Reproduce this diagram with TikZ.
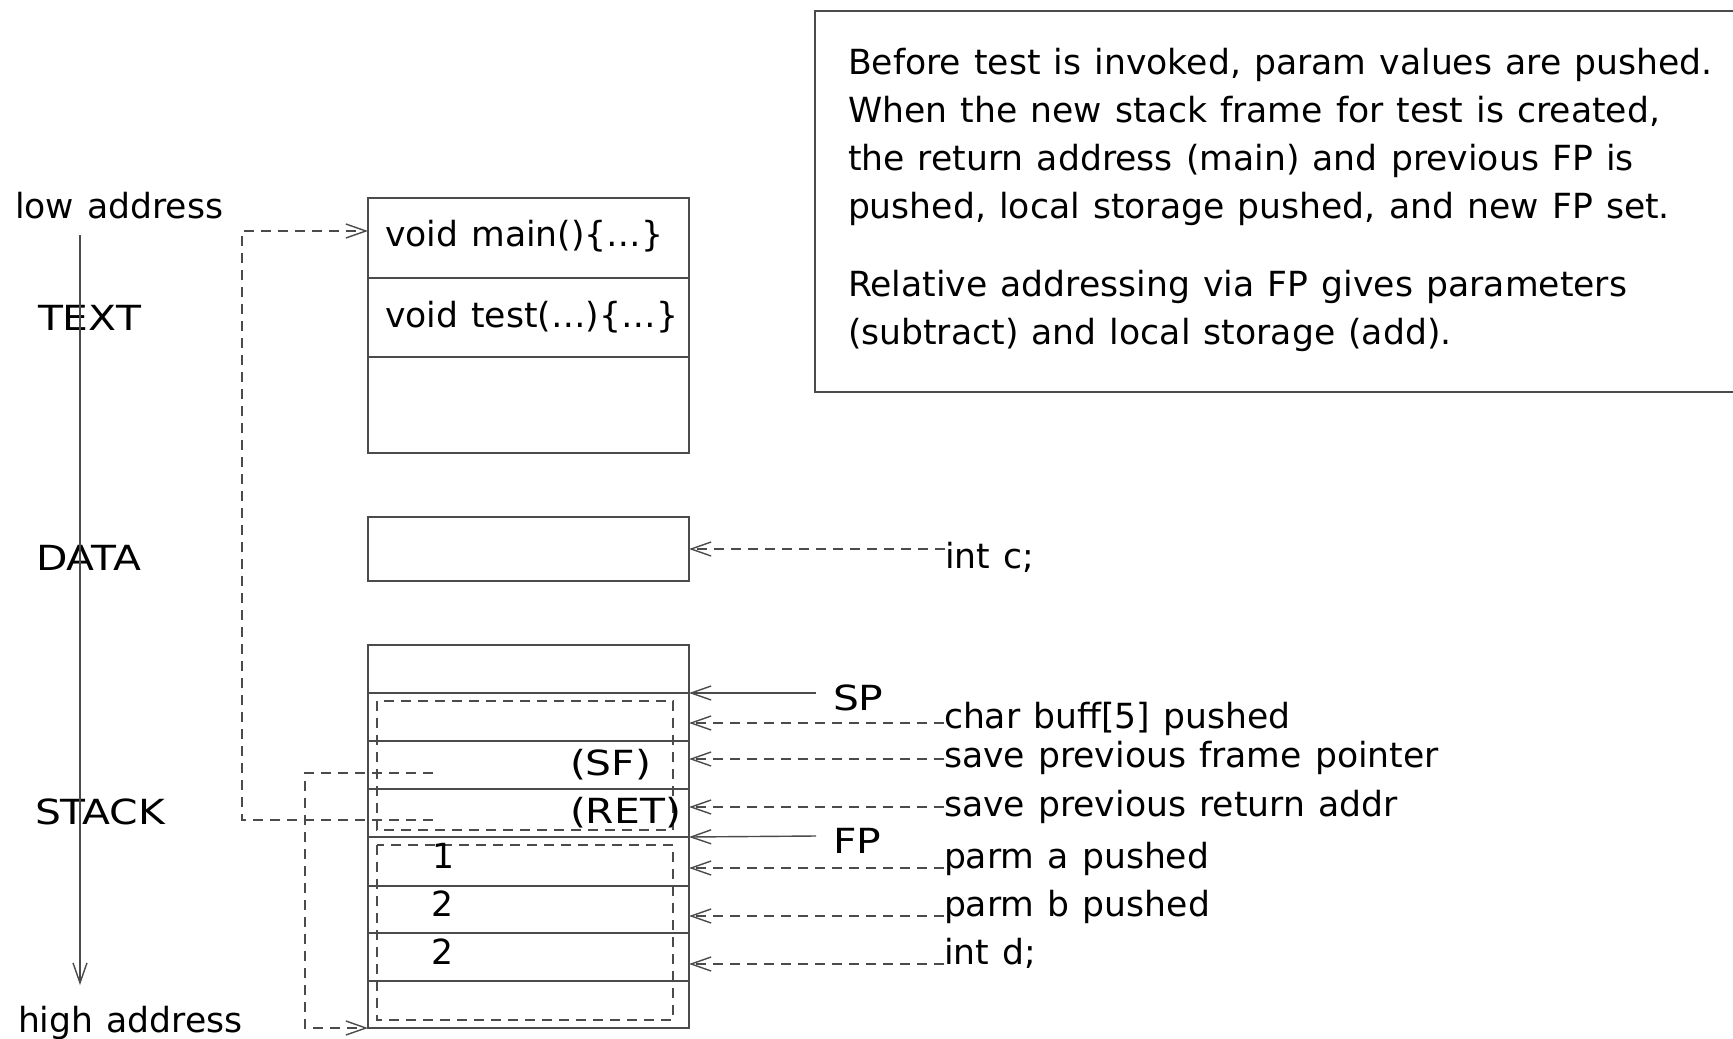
\documentclass[tikz,border=0pt]{standalone}
\usepackage{fontspec}
\setmainfont{DejaVu Sans}[WordSpace=1.2]
\newfontfamily\capfont{DejaVu Sans}[FakeStretch=1.18,WordSpace=1.2]
\usetikzlibrary{arrows.meta}
\definecolor{linegray}{RGB}{75,75,75}
\begin{document}
\begin{tikzpicture}[x=1pt, y=-1pt,
  every node/.style={inner sep=0pt, outer sep=0pt, font=\fontsize{34.6pt}{48pt}\selectfont, text=black},
  txt/.style={anchor=base west},
  capt/.style={anchor=base west, font=\fontsize{34.6pt}{48pt}\selectfont\capfont},
  cell/.style={draw=linegray, line width=1.6pt, minimum width=321pt, anchor=north west},
  dashln/.style={draw=linegray, line width=1.4pt, dash pattern=on 10pt off 7pt},
  solidln/.style={draw=linegray, line width=1.4pt},
  >={Straight Barb[length=20pt,width=14pt]}
]
\fill[white] (0,0) rectangle (1733,1039);
\useasboundingbox (0,0) rectangle (1733,1039);

% left axis labels
\node[txt] (low) at (15,218) {low address};
\node[capt] (textlbl) at (38,330) {TEXT};
\node[capt] (datalbl) at (36,570) {DATA};
\node[capt] (stacklbl) at (35,824) {STACK};
\node[txt] (high) at (18,1032) {high address};
\coordinate (axtop) at (80,235);
\coordinate (axbot) at (80,985);
\draw[solidln,->] (axtop) -- (axbot);

% TEXT segment
\node[cell, minimum height=80pt] (tmain) at (368,198) {};
\node[cell, minimum height=79pt] (ttest) at (368,278) {};
\node[cell, minimum height=96pt] (tempty) at (368,357) {};
\node[txt] (mainfn) at (385,246) {void main()\{\dots\}};
\node[txt] (testfn) at (385,327) {void test(\dots)\{\dots\}};

% DATA segment
\node[cell, minimum height=64pt] (data) at (368,517) {};

% STACK segment
\node[cell, minimum height=48pt] (s0) at (368,645) {};
\node[cell, minimum height=48pt] (s1) at (368,693) {};
\node[cell, minimum height=48pt] (s2) at (368,741) {};
\node[cell, minimum height=48pt] (s3) at (368,789) {};
\node[cell, minimum height=49pt] (s4) at (368,837) {};
\node[cell, minimum height=47pt] (s5) at (368,886) {};
\node[cell, minimum height=48pt] (s6) at (368,933) {};
\node[cell, minimum height=47pt] (s7) at (368,981) {};
\draw[dashln] (377,701) rectangle (673,830);
\draw[dashln] (377,845) rectangle (673,1020);
\node[capt] (sf) at (570,775) {(SF)};
\node[capt] (ret) at (570,823) {(RET)};
\node[anchor=base] (one) at (444,868) {1};
\node[anchor=base] (twoa) at (443,916) {2};
\node[anchor=base] (twob) at (443,964) {2};

% dashed links from saved values
\coordinate (retsrc) at (433,820);
\draw[dashln,->] (retsrc) -- (242,820) |- ([yshift=-33pt]tmain.north west);
\coordinate (sfsrc) at (433,773);
\draw[dashln,->] (sfsrc) -- (305,773) |- (s7.south west);

% int c
\node[txt] (intc) at (945,568) {int c;};
\draw[dashln,->] ([yshift=19pt]intc.base west) -- (data.east);

% SP / FP
\node[capt] (sp) at (833,710) {SP};
\draw[solidln,->] ([xshift=-17pt,yshift=17pt]sp.base west) -- (s1.north east);
\node[capt] (fp) at (833,853) {FP};
\draw[solidln,->] ([xshift=-17pt,yshift=17pt]fp.base west) -- (s4.north east);

% stack annotations
\node[txt] (lb1) at (944,728) {char buff[5] pushed};
\node[txt] (lb2) at (944,767) {save previous frame pointer};
\node[txt] (lb3) at (944,816) {save previous return addr};
\node[txt] (lb4) at (944,868) {parm a pushed};
\node[txt] (lb5) at (944,916) {parm b pushed};
\node[txt] (lb6) at (944,964) {int d;};
\draw[dashln,->] ([yshift=5pt]lb1.base west) -- ++(-255,0);
\draw[dashln,->] ([yshift=8pt]lb2.base west) -- ++(-255,0);
\draw[dashln,->] ([yshift=9pt]lb3.base west) -- ++(-255,0);
\draw[dashln,->] (lb4.base west) -- ++(-255,0);
\draw[dashln,->] (lb5.base west) -- ++(-255,0);
\draw[dashln,->] (lb6.base west) -- ++(-255,0);

% explanation panel
\draw[draw=linegray, line width=1.6pt] (1733,11) -- (815,11) -- (815,392) -- (1733,392);
\node[anchor=north west, align=left] (note) at (848,48.7)
  {Before test is invoked, param values are pushed.\\
   When the new stack frame for test is created,\\
   the return address (main) and previous FP is\\
   pushed, local storage pushed, and new FP set.\\[30pt]
   Relative addressing via FP gives parameters\\
   (subtract) and local storage (add).};
\end{tikzpicture}
\end{document}
